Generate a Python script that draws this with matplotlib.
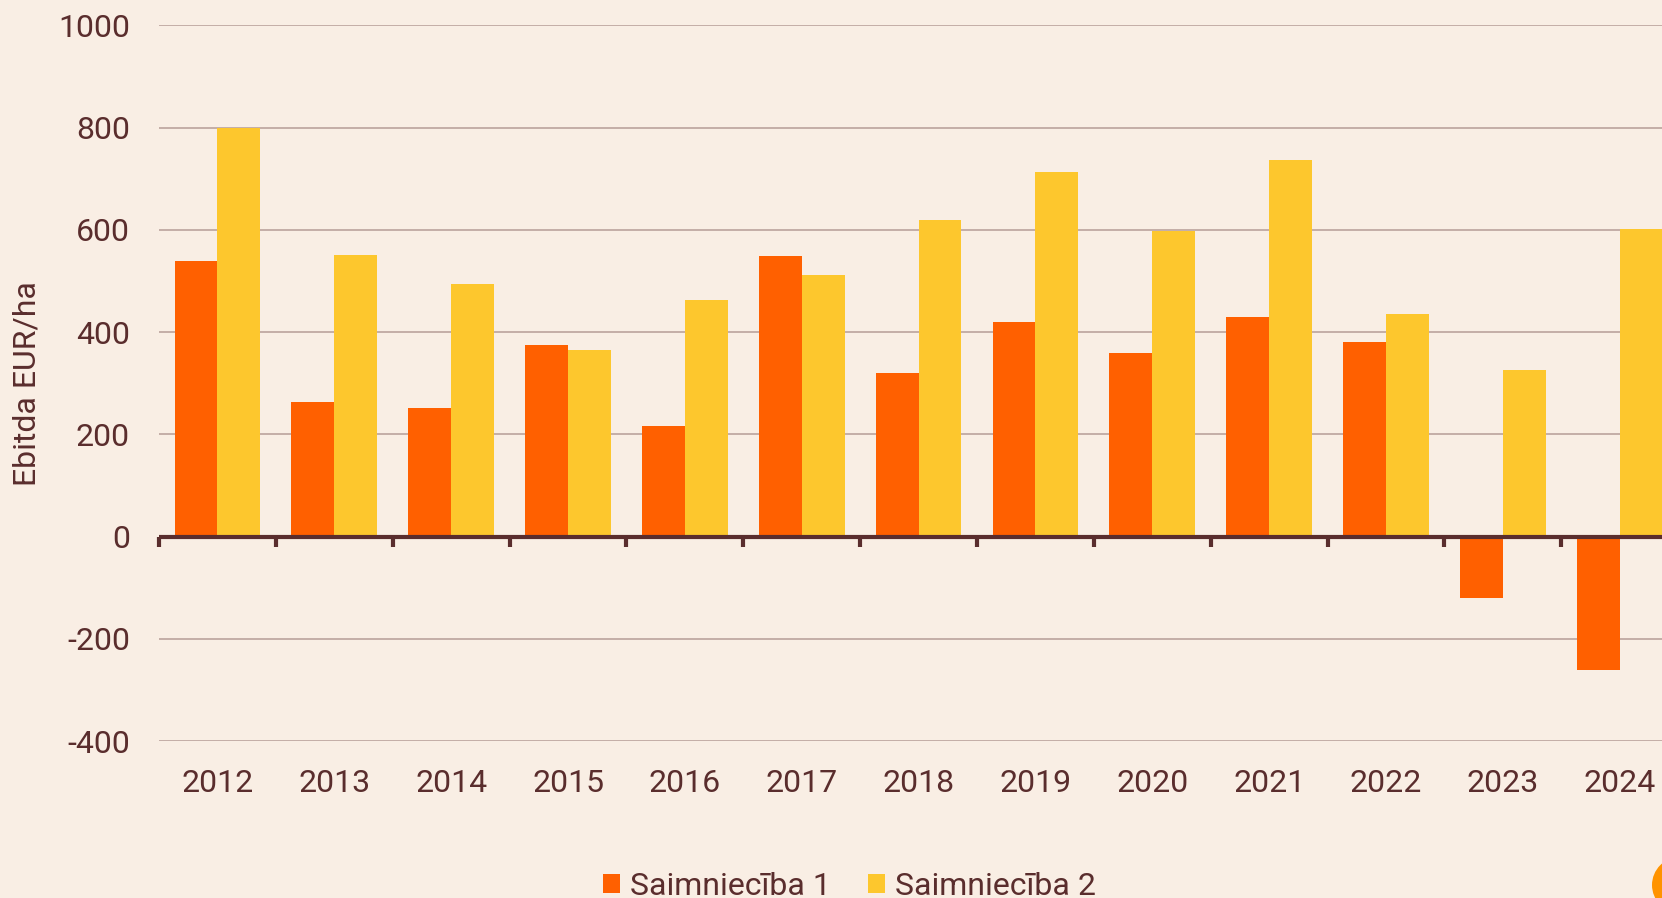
import numpy as np
import matplotlib.pyplot as plt
from matplotlib.patches import Circle

# Dati
GADI = ["2012", "2013", "2014", "2015", "2016", "2017", "2018",
        "2019", "2020", "2021", "2022", "2023", "2024"]
SAIMNIECIBA_1 = [539, 263, 251, 375, 216, 548, 320, 419, 359, 429, 380, -120, -261]
SAIMNIECIBA_2 = [800, 550, 494, 365, 463, 512, 620, 714, 598, 737, 436, 326, 602]
Y_TICKS = [-400, -200, 0, 200, 400, 600, 800, 1000]

FONS = "#f9eee4"
TEKSTS = "#5a2d2d"
ORANZS = "#ff6000"
DZELTENS = "#fdc72d"
REZGIS = "#bba39d"

plt.rcParams["font.family"] = ["Roboto", "DejaVu Sans"]

fig = plt.figure(figsize=(16.62, 8.98), dpi=100, facecolor=FONS)
ax = fig.add_axes([0.0957, 0.1747, 0.914, 0.797])
ax.set_facecolor(FONS)

x = np.arange(len(GADI))
w = 0.367
ax.bar(x - w / 2, SAIMNIECIBA_1, w, color=ORANZS, label="Saimniecība 1", zorder=2)
ax.bar(x + w / 2, SAIMNIECIBA_2, w, color=DZELTENS, label="Saimniecība 2", zorder=2)

ax.set_xlim(-0.5, len(GADI) - 0.5)
ax.set_ylim(-400, 1000)
ax.set_yticks(Y_TICKS)
ax.set_yticklabels([str(v) for v in Y_TICKS])
ax.set_xticks(x)
ax.set_xticklabels(GADI)
ax.tick_params(axis="both", length=0, labelsize=23, colors=TEKSTS)
ax.tick_params(axis="x", pad=20)
ax.tick_params(axis="y", pad=21)

for s in ax.spines.values():
    s.set_visible(False)

for v in Y_TICKS:
    if v != 0:
        ax.axhline(v, color=REZGIS, lw=1.2, zorder=1)

# nulles ass ar iedaļām
ax.axhline(0, color=TEKSTS, lw=3, zorder=3)
robezas = np.arange(len(GADI) + 1) - 0.5
ax.plot(robezas, np.zeros_like(robezas), ls="none", marker=3, ms=7, mew=3,
        color=TEKSTS, zorder=3, clip_on=False)

ax.set_ylabel("Ebitda EUR/ha", fontsize=23, color=TEKSTS, labelpad=12)

leg = fig.legend(loc="center", bbox_to_anchor=(0.511, 0.013), ncol=2, frameon=False,
                 fontsize=23, handlelength=0.55, handleheight=0.55,
                 handletextpad=0.3, columnspacing=1.15, labelcolor=TEKSTS)

# stūra poga
fig.patches.append(Circle((16.80, 0.13), 0.28, transform=fig.dpi_scale_trans,
                          facecolor="#ff9300", edgecolor="none"))

fig.savefig("out.png", dpi=100, facecolor=FONS)
